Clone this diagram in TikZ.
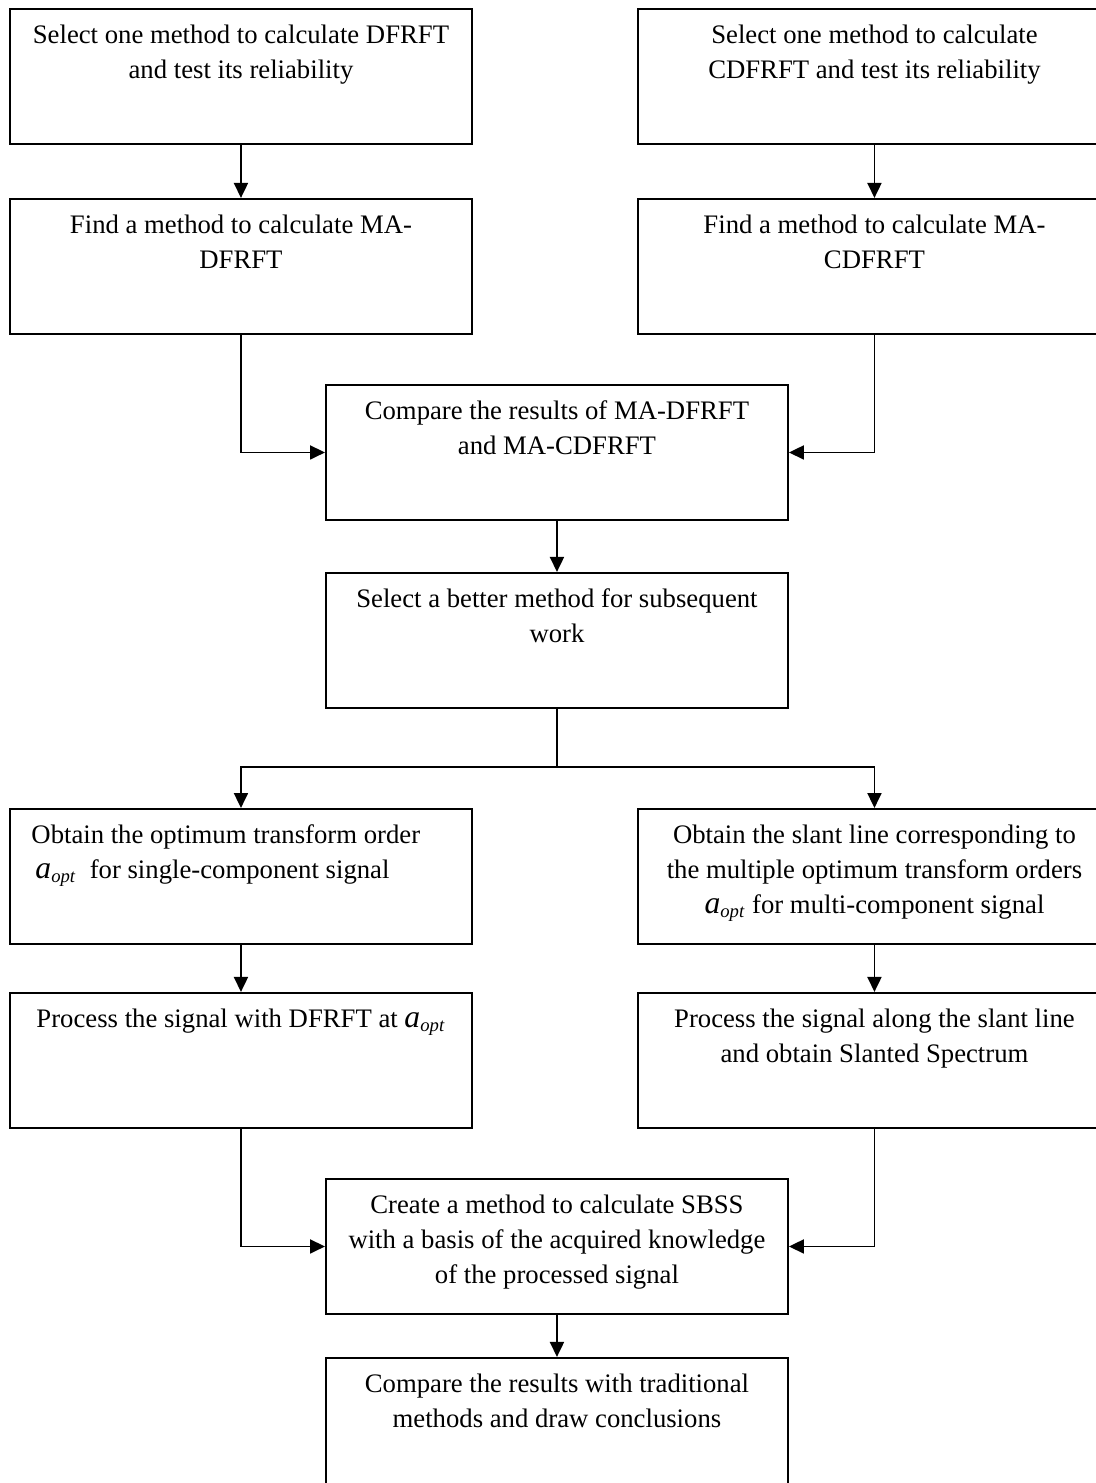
\documentclass[tikz,border=0pt]{standalone}
\usepackage{fontspec}
\setmainfont{Liberation Serif}
\usepackage{tikz}
\usetikzlibrary{positioning,arrows.meta}

\newcommand{\boxtxt}[2][9.24cm]{\parbox[t][2.7cm][t]{#1}{\centering\rule{0pt}{0.7cm}#2}}
\newcommand{\aopt}{{\fontsize{18}{19.9}\selectfont\textit{a}}\textsubscript{\textit{opt}}}

\begin{document}
\begin{tikzpicture}[node distance=1cm, font=\fontsize{15.2}{19.9}\selectfont]
\tikzstyle{stepbox} = [rectangle, draw, line width=1.1pt, inner sep=0pt, anchor=north west]
\tikzstyle{arrow} = [line width=1.1pt, -{Triangle[length=0.3cm, width=0.28cm]}]
\clip (0,0) rectangle (21.92,-29.66);

% two parallel branches
\node (selD) [stepbox] at (0.18,-0.16) {\boxtxt{Select one method to calculate DFRFT\\and test its reliability}};
\node (selC) [stepbox] at (12.74,-0.16) {\boxtxt[9.46cm]{Select one method to calculate\\CDFRFT and test its reliability}};
\node (findD) [stepbox, below=1.06cm of selD] {\boxtxt{Find a method to calculate MA-\\DFRFT}};
\node (findC) [stepbox, below=1.06cm of selC] {\boxtxt[9.46cm]{Find a method to calculate MA-\\CDFRFT}};

% comparison
\node (cmp) [stepbox] at (6.5,-7.68) {\boxtxt{Compare the results of MA-DFRFT\\and MA-CDFRFT}};
\node (better) [stepbox, below=1.02cm of cmp] {\boxtxt{Select a better method for subsequent\\work}};
\coordinate [below=1.16cm of better] (fork);

% signal processing
\node (optL) [stepbox] at (0.18,-16.16) {\parbox[t][2.7cm][t]{9.24cm}{\raggedright\leftskip=0.43cm\rule{0pt}{0.7cm}Obtain the optimum transform order\\\hspace*{0.08cm}\aopt\ \ for single-component signal}};
\node (optR) [stepbox] at (12.74,-16.16) {\boxtxt[9.46cm]{Obtain the slant line corresponding to\\the multiple optimum transform orders\\\aopt\ for multi-component signal}};
\node (procL) [stepbox, below=0.94cm of optL] {\boxtxt{Process the signal with DFRFT at \aopt}};
\node (procR) [stepbox, below=0.94cm of optR] {\boxtxt[9.46cm]{Process the signal along the slant line\\and obtain Slanted Spectrum}};

% SBSS and conclusion
\node (sbss) [stepbox] at (6.5,-23.56) {\boxtxt{Create a method to calculate SBSS\\with a basis of the acquired knowledge\\of the processed signal}};
\node (concl) [stepbox, below=0.84cm of sbss] {\boxtxt{Compare the results with traditional\\methods and draw conclusions}};

\draw [arrow] (selD) -- (findD);
\draw [arrow] (selC) -- (findC);
\draw [arrow] (findD.south) |- (cmp.west);
\draw [arrow] (findC.south) |- (cmp.east);
\draw [arrow] (cmp) -- (better);
\draw [line width=1.1pt] (better) -- (fork);
\draw [arrow] (fork) -| (optL.north);
\draw [arrow] (fork) -| (optR.north);
\draw [arrow] (optL) -- (procL);
\draw [arrow] (optR) -- (procR);
\draw [arrow] (procL.south) |- (sbss.west);
\draw [arrow] (procR.south) |- (sbss.east);
\draw [arrow] (sbss) -- (concl);
\end{tikzpicture}
\end{document}
